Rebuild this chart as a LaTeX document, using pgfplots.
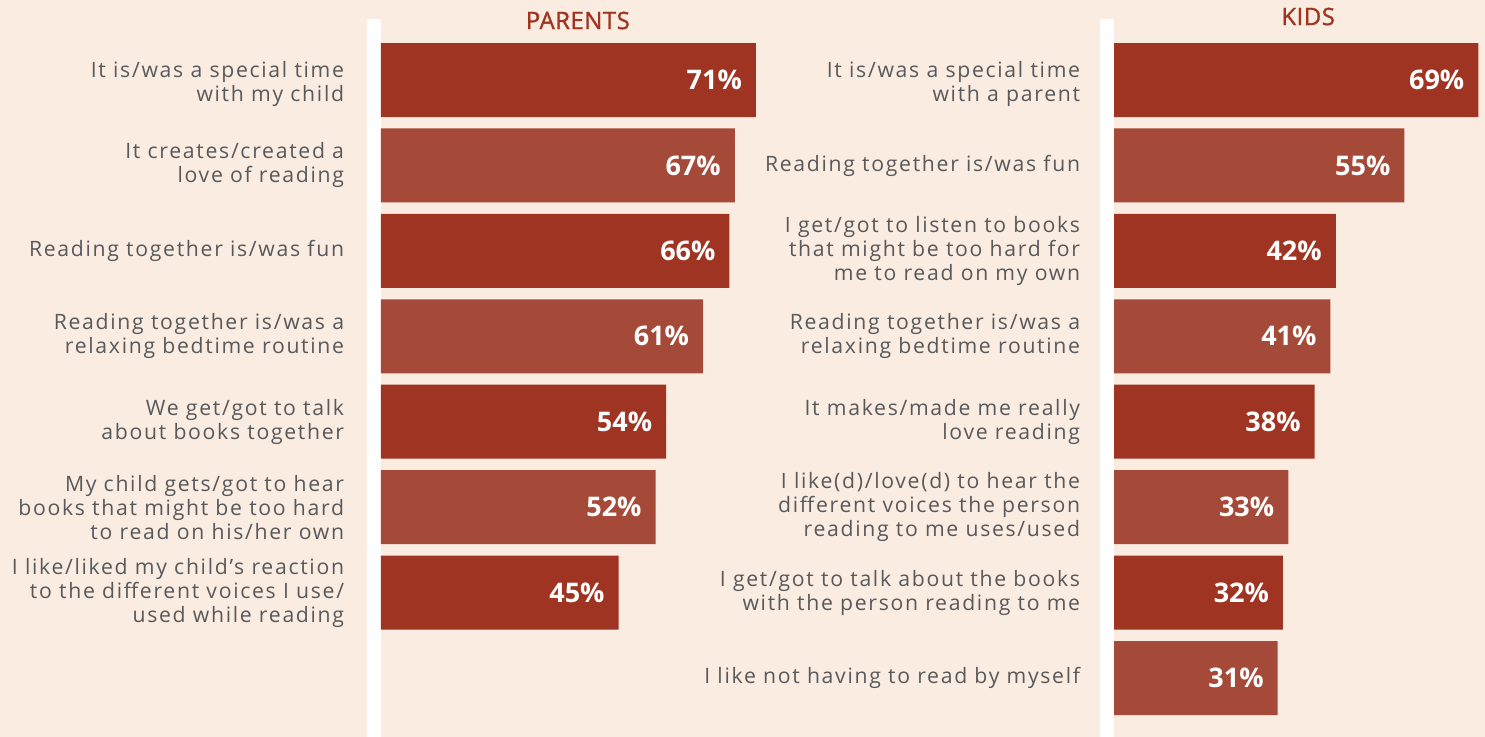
\documentclass[border=0pt]{standalone}
\usepackage{pgfplots}
\pgfplotsset{compat=1.18}
\usepackage{fontspec}
\setmainfont{Open Sans}
\newfontfamily\lblfont{Open Sans}[LetterSpace=8]
\newfontfamily\ttlfont{Open Sans}[FakeBold=1.2, LetterSpace=2]
\newcommand\dn{\rule{0pt}{12pt}}
\definecolor{bg}{HTML}{FBECE2}
\definecolor{dark}{HTML}{9E3421}
\definecolor{light}{HTML}{A54A38}
\definecolor{lbl}{HTML}{58595B}
\definecolor{ttl}{HTML}{A0341F}
\pgfplotsset{
  panel/.style={
    x=2.64pt, y=42.715pt, y dir=reverse,
    xmin=0, ymin=-0.5, ymax=7.5,
    anchor=north west,
    axis line style={draw=none}, major tick style={draw=none},
    xtick=\empty,
    yticklabel style={align=right, anchor=east, inner sep=0pt,
      font=\lblfont\fontsize{10.6}{12}\selectfont, text=lbl},
    xbar, bar width=37pt, bar shift=0pt,
    enlargelimits=false, clip=false,
    /pgf/number format/assume math mode=true,
    point meta=x,
    nodes near coords={\pgfmathprintnumber{\pgfplotspointmeta}\%},
    every node near coord/.append style={anchor=east, xshift=-3.5pt, text=white,
      font=\fontsize{13.5}{16}\selectfont\bfseries},
    title style={font=\ttlfont\fontsize{12}{14}\selectfont, text=ttl, anchor=center},
  }
}
\begin{document}
\begin{tikzpicture}
\useasboundingbox (0,0) rectangle (742.5pt,-368.5pt);
\fill[bg] (0,0) rectangle (742.5pt,-368.5pt);
\fill[white] (183.5pt,-9.5pt) rectangle (190.5pt,-368.5pt);
\fill[white] (550pt,-9.5pt) rectangle (557pt,-368.5pt);
\begin{axis}[panel, at={(190.5pt,-18.65pt)}, xmax=71,
  ytick={0,...,6},
  yticklabel style={xshift=-14pt},
  yticklabels={{\dn It is/was a special time\\with my child},
    {It creates/created a\\love of reading},
    {Reading together is/was fun},
    {Reading together is/was a\\relaxing bedtime routine},
    {We get/got to talk\\about books together},
    {My child gets/got to hear\\books that might be too hard\\to read on his/her own},
    {I like/liked my child’s reaction\\to the different voices I use/\\used while reading}},
  title={PARENTS}, title style={at={(axis description cs:0.525,1)}, yshift=2.4pt}]
\addplot[fill=dark, draw=none] coordinates {(71,0) (66,2) (54,4) (45,6)};
\addplot[fill=light, draw=none] coordinates {(67,1) (61,3) (52,5)};
\end{axis}
\begin{axis}[panel, at={(557pt,-18.65pt)}, xmax=69,
  ytick={0,...,7},
  yticklabel style={xshift=-12.5pt},
  yticklabels={{\dn It is/was a special time\\with a parent},
    {Reading together is/was fun},
    {I get/got to listen to books\\that might be too hard for\\me to read on my own},
    {Reading together is/was a\\relaxing bedtime routine},
    {It makes/made me really\\love reading},
    {I like(d)/love(d) to hear the\\different voices the person\\reading to me uses/used},
    {I get/got to talk about the books\\with the person reading to me},
    {I like not having to read by myself}},
  title={KIDS}, title style={at={(axis description cs:0.533,1)}, yshift=4.4pt}]
\addplot[fill=dark, draw=none] coordinates {(69,0) (42,2) (38,4) (32,6)};
\addplot[fill=light, draw=none] coordinates {(55,1) (41,3) (33,5) (31,7)};
\end{axis}
\end{tikzpicture}
\end{document}
